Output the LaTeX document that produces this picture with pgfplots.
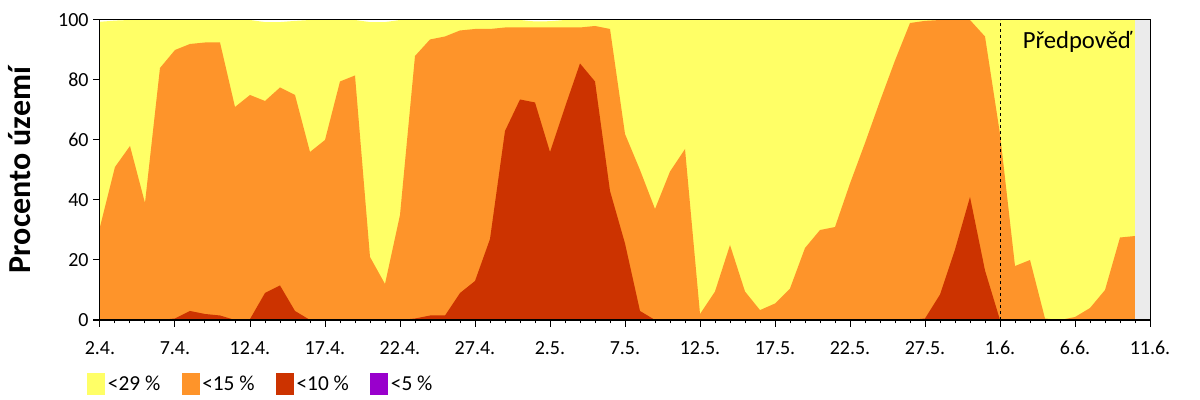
\documentclass[border=0pt]{standalone}
\usepackage{fontspec}
\setmainfont{Carlito}
\usepackage{pgfplots}
\usepackage{pgfplotstable}
\pgfplotsset{compat=1.18}
\definecolor{cyel}{RGB}{255,255,102}
\definecolor{corg}{RGB}{254,148,42}
\definecolor{cred}{RGB}{204,51,0}
\definecolor{cpur}{RGB}{153,0,204}
\definecolor{cgry}{RGB}{235,235,235}
\pgfplotstableread{
d y o r
0 99.4 31 0
1 99.8 51 0
2 100 58 0
3 100 39 0
4 100 84 0
5 100 90 0.5
6 100 92 3
7 100 92.5 2
8 100 92.5 1.5
9 100 71 0
10 100 75 0.3
11 99.3 73 9
12 99.3 77.5 11.5
13 99.7 75 3
14 100 56 0
15 100 60 0
16 100 79.5 0
17 100 81.5 0
18 99.3 21 0
19 99.3 12 0
20 100 35 0
21 100 88 0.5
22 100 93.5 1.5
23 100 94.5 1.5
24 100 96.5 9
25 100 97 13
26 100 97 27
27 100 97.5 63
28 100 97.5 73.5
29 99.5 97.5 72.5
30 99.6 97.5 56
31 100 97.5 71
32 100 97.5 85.5
33 100 98 79.5
34 100 97 43
35 100 62 25.5
36 100 50 3
37 100 37 0
38 100 49.5 0
39 100 57 0
40 100 2 0
41 100 9.5 0
42 100 25 0
43 100 9.5 0
44 100 3.3 0
45 100 5.5 0
46 100 10.5 0
47 100 24 0
48 100 30 0
49 100 31 0
50 100 45.5 0
51 100 59 0
52 100 73 0
53 100 86.5 0
54 100 99 0
55 100 99.7 0.5
56 100 100 8.5
57 100 100 23.5
58 100 100 41
59 100 94.5 16.5
60 100 62 0
61 100 18 0
62 100 20 0
63 100 0.5 0
64 100 0 0
65 100 1 0
66 100 4 0
67 100 10 0
68 100 27.5 0
69 100 28 0
}\data
\begin{document}
\begin{tikzpicture}
\begin{axis}[
  at={(75pt,60pt)}, anchor=south west,
  width=787.5pt, height=225pt, scale only axis,
  xmin=0, xmax=70, ymin=0, ymax=100,
  axis on top,
  xtick={0,5,...,70},
  xticklabels={2.4.,7.4.,12.4.,17.4.,22.4.,27.4.,2.5.,7.5.,12.5.,17.5.,22.5.,27.5.,1.6.,6.6.,11.6.},
  minor xtick={0,1,...,70},
  ytick={0,20,...,100},
  tick align=outside,
  xtick pos=left, ytick pos=left,
  major tick length=5pt, minor tick length=2.5pt,
  tick style={black, line width=0.75pt},
  axis line style={line width=0.75pt},
  ticklabel style={font=\fontsize{15}{18}\selectfont},
  xticklabel style={yshift=-7.5pt},
  /pgf/number format/assume math mode=true,
  ylabel={Procento území},
  ylabel style={at={(axis description cs:-0.0762,0.5)}, anchor=center, font=\fontsize{24}{28}\selectfont\bfseries},
  legend columns=4,
  legend style={draw=none, fill=none, inner sep=0pt, at={(axis description cs:0,0)}, xshift=-9.75pt, yshift=-48pt, anchor=west, font=\fontsize{16}{19}\selectfont, /tikz/every even column/.append style={column sep=14pt}},
  legend image code/.code={\fill[#1] (0pt,-8.25pt) rectangle (13.5pt,8.25pt);},
]
\addplot[fill=cyel, draw=none] table[x=d, y=y] {\data} \closedcycle;
\addlegendentry{<29 \%}
\addplot[fill=corg, draw=none] table[x=d, y=o] {\data} \closedcycle;
\addlegendentry{<15 \%}
\addplot[fill=cred, draw=none] table[x=d, y=r] {\data} \closedcycle;
\addlegendentry{<10 \%}
\addlegendimage{fill=cpur, draw=none}
\addlegendentry{<5 \%}
\addplot[fill=cgry, draw=none, forget plot] coordinates {(69,100) (70,100)} \closedcycle;
\addplot[black, dash pattern=on 2.25pt off 2.25pt, line width=0.75pt, forget plot] coordinates {(60,0) (60,100)};
\node[anchor=base west, inner sep=0pt, font=\fontsize{18.5}{22}\selectfont] at (axis cs:61.5,90.6) {Předpověď};
\end{axis}
\pgfresetboundingbox
\path[use as bounding box] (0,0) rectangle (900pt,300pt);
\end{tikzpicture}
\end{document}
